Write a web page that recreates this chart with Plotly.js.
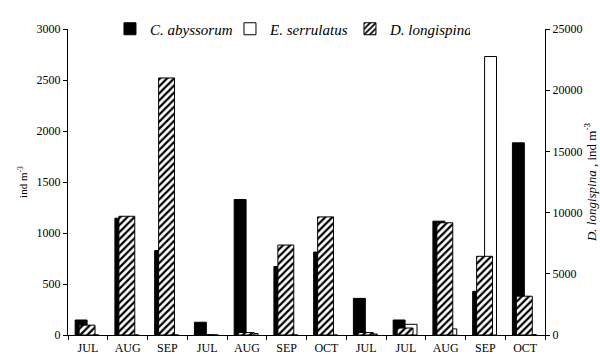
<!DOCTYPE html>
<html>
<head>
<meta charset="utf-8">
<script src="https://cdn.plot.ly/plotly-3.0.1.min.js"></script>
<style>html,body{margin:0;padding:0;background:#fff;}#chart{width:600px;height:358px;}</style>
</head>
<body>
<div id="chart"></div>
<script>
// Category keys (unique) and displayed month labels
var catKeys = ['c1','c2','c3','c4','c5','c6','c7','c8','c9','c10','c11','c12'];
var monthLabels = ['JUL','AUG','SEP','JUL','AUG','SEP','OCT','JUL','JUL','AUG','SEP','OCT'];

// Series values (ind m^-3)
var cAbyssorum = [147, 1145, 828, 125, 1328, 672, 813, 359, 147, 1116, 428, 1884];
var eSerrulatus = [0, 0, 0, 0, 15, 0, 0, 10, 105, 60, 2730, 5];
// Secondary axis series
var dLongispina = [805, 9700, 21000, 0, 200, 7350, 9650, 200, 570, 9170, 6430, 3170];

var fontFam = 'Liberation Serif, Times New Roman, DejaVu Serif, serif';

var traces = [
  {
    type: 'bar', name: '<i>C. abyssorum</i>', x: catKeys, y: cAbyssorum,
    yaxis: 'y', offset: -0.32, width: 0.3,
    marker: {color: '#000000', line: {color: '#000000', width: 1}},
    hoverinfo: 'skip'
  },
  {
    type: 'bar', name: '<i>E. serrulatus</i>', x: catKeys, y: eSerrulatus,
    yaxis: 'y', offset: -0.02, width: 0.3,
    marker: {color: '#ffffff', line: {color: '#000000', width: 1}},
    hoverinfo: 'skip'
  },
  {
    type: 'bar', name: '<i>D. longispina</i>', x: catKeys, y: dLongispina,
    yaxis: 'y2', offset: -0.22, width: 0.4,
    marker: {color: '#ffffff', line: {color: '#000000', width: 1},
      pattern: {shape: '/', fgcolor: '#000000', bgcolor: '#ffffff', size: 5, solidity: 0.45}},
    hoverinfo: 'skip'
  }
];

var layout = {
  width: 600, height: 358,
  margin: {l: 68, r: 55, t: 15, b: 23, pad: 0},
  paper_bgcolor: '#ffffff', plot_bgcolor: '#ffffff',
  font: {family: fontFam, size: 12, color: '#000000'},
  barmode: 'overlay',
  showlegend: true,
  legend: {
    orientation: 'h', x: 0.088, xanchor: 'left', y: 1.0, yanchor: 'middle',
    font: {family: fontFam, size: 15, color: '#000'},
    bgcolor: 'rgba(0,0,0,0)', traceorder: 'normal', itemwidth: 30,
    entrywidth: 75, entrywidthmode: 'pixels'
  },
  xaxis: {
    type: 'category', tickmode: 'array', tickvals: catKeys, ticktext: monthLabels,
    tickson: 'boundaries', ticks: 'outside', ticklen: 4, tickcolor: '#000',
    showline: true, linecolor: '#000', linewidth: 1, showgrid: false, zeroline: false,
    tickfont: {family: fontFam, size: 12}, range: [-0.5, 11.5], ticklabelstandoff: 2
  },
  yaxis: {
    range: [0, 3000], dtick: 500, ticks: 'outside', ticklen: 4, tickcolor: '#000',
    showline: true, linecolor: '#000', linewidth: 1, showgrid: false, zeroline: false,
    tickfont: {family: fontFam, size: 12},
    title: {text: 'ind m<sup>-3</sup>', font: {family: fontFam, size: 11}, standoff: 6}
  },
  yaxis2: {
    overlaying: 'y', side: 'right', range: [0, 25000], dtick: 5000,
    tickformat: 'd', exponentformat: 'none',
    ticks: 'outside', ticklen: 4, tickcolor: '#000',
    showline: true, linecolor: '#000', linewidth: 1, showgrid: false, zeroline: false,
    tickfont: {family: fontFam, size: 12},
    title: {text: '<i>D. longispina</i> , ind m<sup>-3</sup>', font: {family: fontFam, size: 13}, standoff: 2}
  }
};

Plotly.newPlot('chart', traces, layout, {displayModeBar: false, staticPlot: true});
</script>
</body>
</html>
